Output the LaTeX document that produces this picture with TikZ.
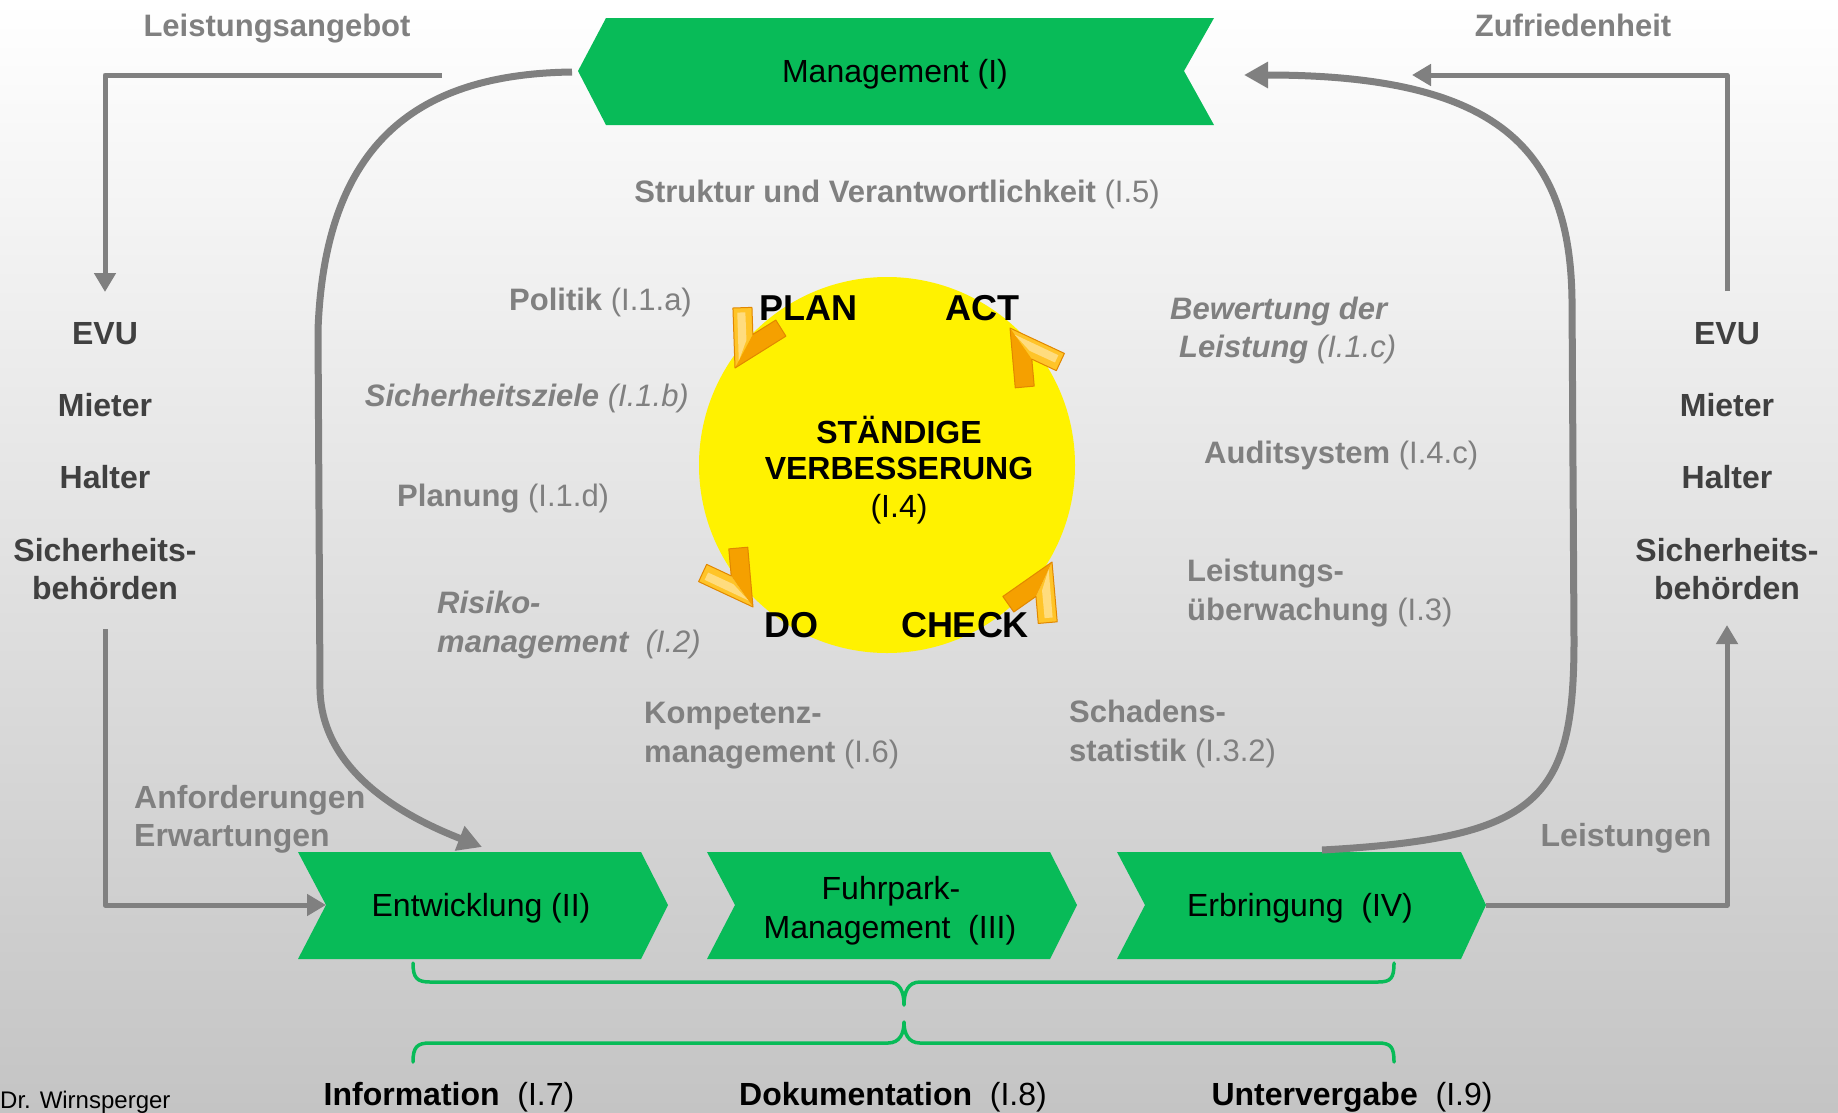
\documentclass[tikz,border=0pt]{standalone}
\usepackage{fontspec}
\setmainfont{Liberation Sans}
\usetikzlibrary{arrows.meta}
\definecolor{labgray}{RGB}{128,128,128}
\definecolor{coldark}{RGB}{64,64,64}
\definecolor{pgreen}{RGB}{8,187,88}
\definecolor{bgbot}{RGB}{196,196,196}
\definecolor{arrgray}{RGB}{128,128,128}
\definecolor{chevlight}{RGB}{255,196,40}
\definecolor{chevdark}{RGB}{245,160,0}
\definecolor{chevedge}{RGB}{225,135,0}
\begin{document}
\begin{tikzpicture}[x=1pt,y=-1pt,
  lab/.style={inner sep=0pt, text=labgray, font=\fontsize{31}{37}\selectfont},
  col/.style={inner sep=0pt, text=coldark, font=\fontsize{32}{38}\selectfont\bfseries, anchor=base},
  ptext/.style={inner sep=0pt, text=black, font=\fontsize{32}{38}\selectfont, anchor=base},
  pdcatext/.style={inner sep=0pt, text=black, font=\fontsize{36}{40}\selectfont\bfseries, anchor=base},
  thinarrow/.style={draw=arrgray, line width=5pt, line join=round, -{Triangle[length=19pt,width=21pt]}},
  thickarrow/.style={draw=arrgray, line width=7pt, -{Triangle[length=24pt,width=25pt]}},
  bracepath/.style={draw=pgreen, line width=3.5pt, line cap=round, line join=round},
  chev/.pic={
    \fill[chevlight] (0,0) -- (-52,30) -- (-61.5,13.5) -- (-38,0) -- cycle;
    \fill[chevdark] (0,0) -- (-38,0) -- (-61.5,-13.5) -- (-52,-30) -- cycle;
    \fill[chevlight!60!white] (-8,0) -- (-50,24) -- (-54,17) -- (-30,3) -- cycle;
    \draw[chevedge, line width=1pt, line join=round] (0,0) -- (-52,30) -- (-61.5,13.5) -- (-38,0) -- (-61.5,-13.5) -- (-52,-30) -- cycle;
  },
]
\useasboundingbox (0,0) rectangle (1838,1112);
\shade[top color=white, bottom color=bgbot] (0,0) rectangle (1838,1112);

% Management banner
\fill[pgreen] (578,71) -- (606,18) -- (1214,18) -- (1184,71) -- (1214,125) -- (606,125) -- cycle;
\node[ptext] (mgmt) at (895,82) {Management (I)};
\coordinate (mgmtW) at (572,72);
\coordinate (mgmtE) at (1244,75);

% process arrows
\fill[pgreen] (298,852) -- (641,852) -- (668,905) -- (641,959) -- (298,959) -- (326,905) -- cycle;
\fill[pgreen] (707,852) -- (1050,852) -- (1077,905) -- (1050,959) -- (707,959) -- (735,905) -- cycle;
\fill[pgreen] (1117,852) -- (1461,852) -- (1486,905) -- (1461,959) -- (1117,959) -- (1145,905) -- cycle;
\node[ptext] (entw) at (481,916) {Entwicklung (II)};
\node[ptext] (fuhr1) at (891,899) {Fuhrpark-};
\node[ptext] (fuhr2) at (890,938) {Management\ \ (III)};
\node[ptext] (erb) at (1300,916) {Erbringung\ \ (IV)};
\coordinate (entwW) at (326,905);
\coordinate (entwIn) at (482,847);
\coordinate (erbE) at (1486,905);
\coordinate (erbOut) at (1322,850);

% big loop arrows
\draw[thickarrow] (mgmtW) .. controls (420,74) and (325,140) .. (318,330) -- (320,690) .. controls (322,770) and (400,815) .. (entwIn);
\draw[thickarrow] (erbOut) .. controls (1540,838) and (1574,800) .. (1574,640) -- (1572,300) .. controls (1570,150) and (1500,75) .. (mgmtE);

% outer L arrows
\node[lab, anchor=base] (leist) at (277,36) {\bfseries Leistungsangebot};
\node[lab, anchor=base] (zufr) at (1573,36) {\bfseries Zufriedenheit};
\coordinate (leistA) at (442,75);
\coordinate (leftTopTip) at (105,292);
\coordinate (rightTopStart) at (1727,291);
\coordinate (zufrTip) at (1412,75);
\coordinate (leftBotStart) at (105,629);
\coordinate (rightBotTip) at (1727,625);
\draw[thinarrow] (leistA) -| (leftTopTip);
\draw[thinarrow] (rightTopStart) |- (zufrTip);
\draw[thinarrow] (leftBotStart) |- (entwW);
\draw[thinarrow] (erbE) -| (rightBotTip);

% side columns
\foreach \cx/\side in {105/L,1727/R}{
  \node[col] (evu\side) at (\cx,344) {EVU};
  \node[col] (miet\side) at (\cx,416) {Mieter};
  \node[col] (halt\side) at (\cx,488) {Halter};
  \node[col] (sich\side) at (\cx,561) {Sicherheits-};
  \node[col] (beh\side) at (\cx,599) {behörden};
}
\node[lab, anchor=base west, font=\fontsize{32}{38}\selectfont\bfseries] (anf1) at (134,808) {Anforderungen};
\node[lab, anchor=base west, font=\fontsize{32}{38}\selectfont\bfseries] (anf2) at (134,846) {Erwartungen};
\node[lab, anchor=base, font=\fontsize{32}{38}\selectfont\bfseries] (leistg) at (1626,846) {Leistungen};

% circle
\node[circle, fill=yellow, minimum size=376pt, inner sep=0pt] (pdca) at (887,465) {};
\pic[rotate=242] at (735,368) {chev};
\pic[rotate=125] at (1010,328) {chev};
\pic[rotate=305] at (753,607) {chev};
\pic[rotate=65] at (1052,562) {chev};
\node[pdcatext] (planT) at (808,320) {PLAN};
\node[pdcatext] (actT) at (982,320) {ACT};
\node[pdcatext] (doT) at (791,637) {DO};
\node[pdcatext] (checkT) at (965,637) {CHECK};
\node[ptext, font=\fontsize{32}{38}\selectfont\bfseries] (sv1) at (899,443) {STÄNDIGE};
\node[ptext, font=\fontsize{32}{38}\selectfont\bfseries] (sv2) at (899,479) {VERBESSERUNG};
\node[ptext] (sv3) at (899,517) {(I.4)};

% inner labels
\node[lab, anchor=base] (struk) at (897,202) {\textbf{Struktur und Verantwortlichkeit} (I.5)};
\node[lab, anchor=base east] (pol) at (692,310) {\textbf{Politik} (I.1.a)};
\node[lab, anchor=base east] (sichz) at (689,406) {\itshape\textbf{Sicherheitsziele} (I.1.b)};
\node[lab, anchor=base west] (planu) at (397,506) {\textbf{Planung} (I.1.d)};
\node[lab, anchor=base west] (risk1) at (437,613) {\itshape\bfseries Risiko-};
\node[lab, anchor=base west] (risk2) at (437,652) {\itshape\textbf{management}\ \ (I.2)};
\node[lab, anchor=base west] (komp1) at (644,723) {\bfseries Kompetenz-};
\node[lab, anchor=base west] (komp2) at (644,762) {\textbf{management} (I.6)};
\node[lab, anchor=base west] (scha1) at (1069,722) {\bfseries Schadens-};
\node[lab, anchor=base west] (scha2) at (1069,761) {\textbf{statistik} (I.3.2)};
\node[lab, anchor=base west] (lue1) at (1187,581) {\bfseries Leistungs-};
\node[lab, anchor=base west] (lue2) at (1187,620) {\textbf{überwachung} (I.3)};
\node[lab, anchor=base west] (audit) at (1204,463) {\textbf{Auditsystem} (I.4.c)};
\node[lab, anchor=base west] (bew1) at (1170,319) {\itshape\bfseries Bewertung der};
\node[lab, anchor=base west] (bew2) at (1179,357) {\itshape\textbf{Leistung} (I.1.c)};

% braces
\draw[bracepath] (413,963) .. controls (413,978) and (417,982) .. (430,982) -- (888,982) .. controls (900,982) and (904,992) .. (904,1005) .. controls (904,992) and (908,982) .. (920,982) -- (1378,982) .. controls (1391,982) and (1394,978) .. (1394,963);
\draw[bracepath] (413,1062) .. controls (413,1047) and (417,1043) .. (430,1043) -- (888,1043) .. controls (900,1043) and (904,1033) .. (904,1022) .. controls (904,1033) and (908,1043) .. (920,1043) -- (1378,1043) .. controls (1391,1043) and (1394,1047) .. (1394,1062);

% bottom labels
\node[ptext] (info) at (449,1105) {\textbf{Information}\ \ (I.7)};
\node[ptext] (doku) at (893,1105) {\textbf{Dokumentation}\ \ (I.8)};
\node[ptext] (unter) at (1352,1105) {\textbf{Untervergabe}\ \ (I.9)};
\node[ptext, anchor=base west, font=\fontsize{24}{28}\selectfont] (author) at (0,1108) {Dr. Wirnsperger};
\end{tikzpicture}
\end{document}
